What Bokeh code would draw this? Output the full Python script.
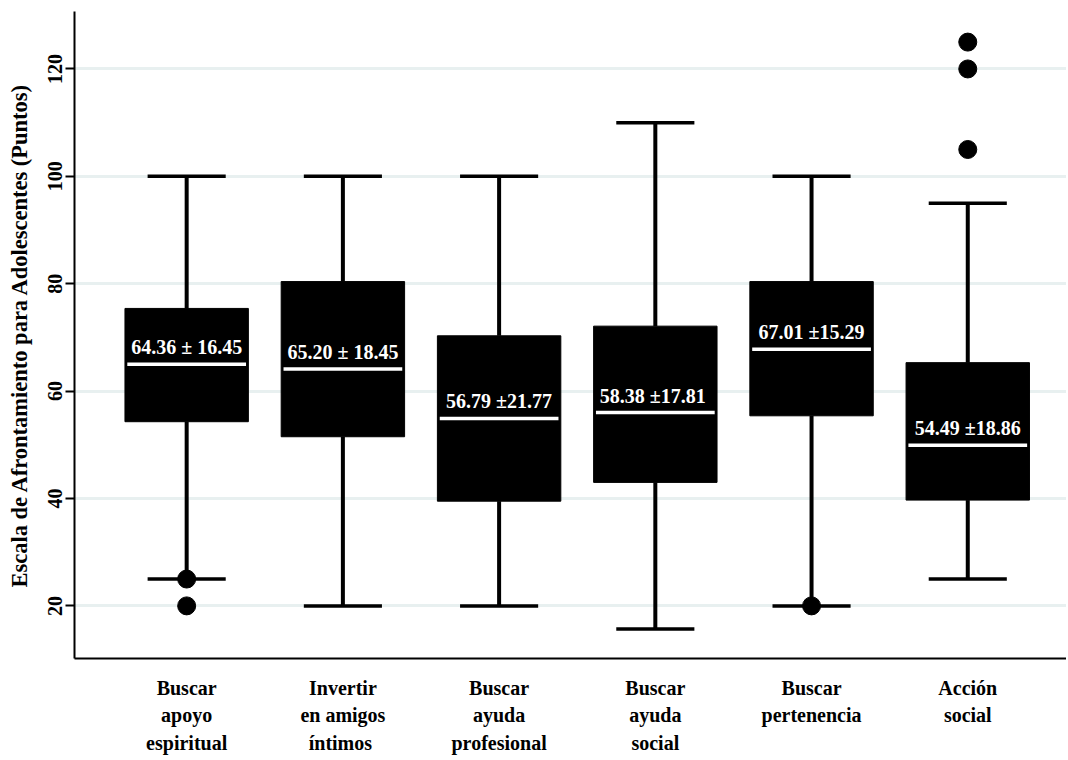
from bokeh.plotting import figure
from bokeh.models import FixedTicker, Range1d
from bokeh.core.properties import value
from bokeh.embed import file_html
from bokeh.resources import INLINE

categories = ["Buscar\napoyo\nespiritual", "Invertir\nen amigos\n íntimos", "Buscar\nayuda\nprofesional",
              "Buscar\nayuda\nsocial", "Buscar\npertenencia", "Acción\nsocial"]
upper = [100, 100, 100, 110, 100, 95]
q3 = [75.4, 80.4, 70.3, 72.1, 80.4, 65.3]
median = [65.0, 64.1, 54.9, 56.0, 67.8, 49.9]
q1 = [54.3, 51.5, 39.5, 43.0, 55.4, 39.7]
lower = [25, 20, 20, 15.7, 20, 25]
outlier_cat = [0, 0, 4, 5, 5, 5]
outlier_val = [25, 20, 20, 105, 120, 125]
labels = ["64.36 ± 16.45", "65.20 ± 18.45", "56.79 ±21.77", " 58.38 ±17.81", "67.01 ±15.29", "54.49 ±18.86"]
y_ticks = [20, 40, 60, 80, 100, 120]

FONT = "Liberation Serif"
xs = list(range(len(categories)))

p = figure(width=1066, height=758, output_backend="svg", toolbar_location=None,
           x_range=Range1d(-0.718, 5.632), y_range=Range1d(10.2, 130.7),
           min_border_left=74, min_border_top=11, min_border_bottom=100, min_border_right=0)
p.outline_line_color = None
p.background_fill_color = "white"
p.border_fill_color = "white"

p.xgrid.grid_line_color = None
p.ygrid.grid_line_color = "#e8f0f0"
p.ygrid.grid_line_width = 3
p.ygrid.ticker = FixedTicker(ticks=y_ticks)

# whiskers
p.segment(x0=xs, y0=q3, x1=xs, y1=upper, line_color="black", line_width=4)
p.segment(x0=xs, y0=q1, x1=xs, y1=lower, line_color="black", line_width=4)
p.segment(x0=[x - 0.25 for x in xs], y0=upper, x1=[x + 0.25 for x in xs], y1=upper, line_color="black", line_width=3.5)
p.segment(x0=[x - 0.25 for x in xs], y0=lower, x1=[x + 0.25 for x in xs], y1=lower, line_color="black", line_width=3.5)

# boxes
p.vbar(x=xs, width=0.79, top=q3, bottom=q1, fill_color="black", line_color="black", line_width=1)
# medians
p.segment(x0=[x - 0.38 for x in xs], y0=median, x1=[x + 0.38 for x in xs], y1=median,
          line_color="white", line_width=3.5)

# outliers
p.scatter(x=outlier_cat, y=outlier_val, size=18, fill_color="black", line_color="black")

# labels
p.text(x=xs, y=median, text=labels, text_color="white", text_font=value(FONT),
       text_font_style="bold", text_font_size="20px", text_align="center",
       text_baseline="alphabetic", y_offset=-17)

# axes
xa = p.xaxis[0]
xa.ticker = FixedTicker(ticks=xs)
xa.major_label_overrides = {i: c for i, c in enumerate(categories)}
xa.major_tick_out = 0
xa.major_tick_in = 0
xa.minor_tick_out = 0
xa.minor_tick_in = 0
xa.axis_line_width = 2
xa.axis_line_color = "black"
xa.major_label_text_font = FONT
xa.major_label_text_font_style = "bold"
xa.major_label_text_font_size = "20px"
xa.major_label_text_color = "black"
xa.major_label_text_line_height = 1.25
xa.major_label_standoff = 18

ya = p.yaxis[0]
ya.ticker = FixedTicker(ticks=y_ticks)
ya.major_tick_out = 9
ya.major_tick_in = 0
ya.minor_tick_out = 0
ya.minor_tick_in = 0
ya.major_tick_line_width = 2
ya.axis_line_width = 2
ya.axis_line_color = "black"
ya.major_label_orientation = "vertical"
ya.major_label_text_font = FONT
ya.major_label_text_font_style = "bold"
ya.major_label_text_font_size = "20px"
ya.major_label_text_color = "black"
ya.major_label_standoff = 3
ya.axis_label = "Escala de Afrontamiento para Adolescentes (Puntos)"
ya.axis_label_text_font = FONT
ya.axis_label_text_font_style = "bold"
ya.axis_label_text_font_size = "22.5px"
ya.axis_label_text_color = "black"
ya.axis_label_standoff = 14

open("out.html", "w").write(file_html(p, INLINE))
